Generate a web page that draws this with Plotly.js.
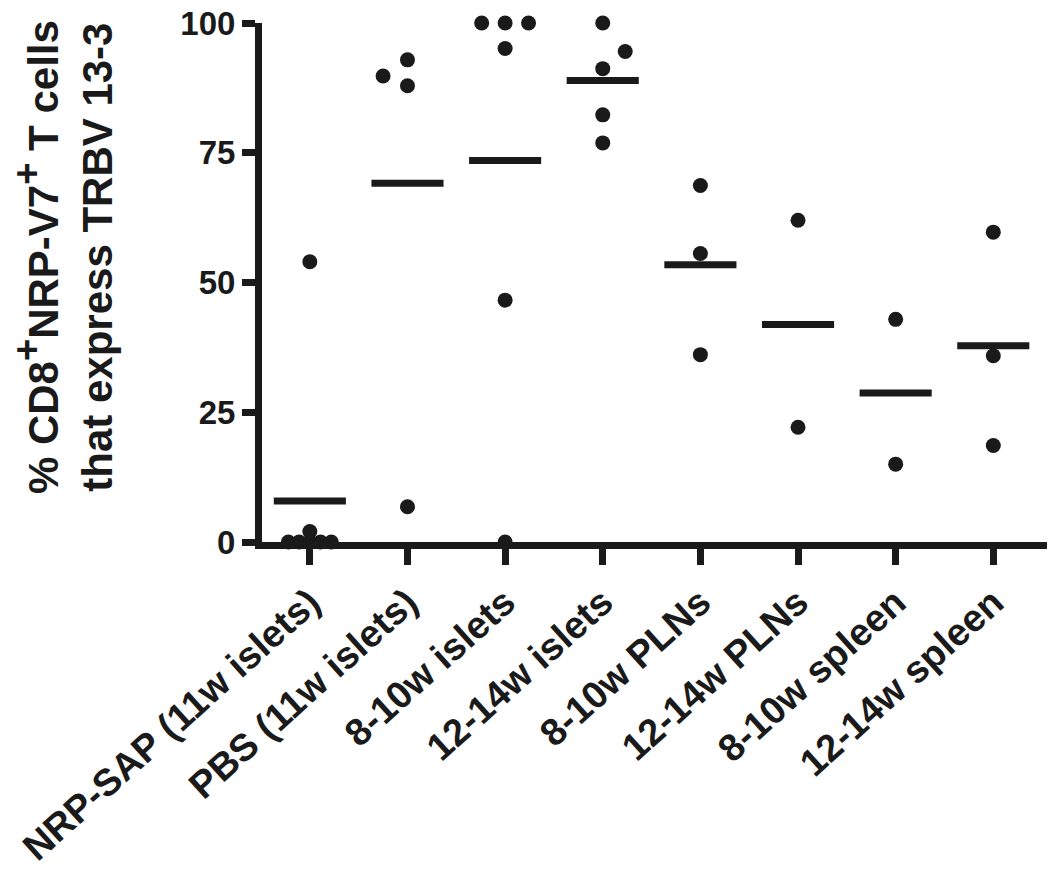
<!DOCTYPE html>
<html>
<head>
<meta charset="utf-8">
<script src="https://cdn.plot.ly/plotly-3.0.1.min.js"></script>
<style>
  html, body { margin: 0; padding: 0; background: #ffffff; }
  #chart { width: 1050px; height: 887px; }
</style>
</head>
<body>
<div id="chart"></div>
<script>
// ---- data ----
const categories = [
  'NRP-SAP (11w islets)', 'PBS (11w islets)', '8-10w islets', '12-14w islets',
  '8-10w PLNs', '12-14w PLNs', '8-10w spleen', '12-14w spleen'
];
const nrpSap      = [54, 2, 0, 0, 0, 0, 0];
const pbs         = [89.8, 92.9, 87.9, 6.8];
const islets8_10  = [100, 100, 100, 95.1, 46.6, 0];
const islets12_14 = [100, 94.5, 91.2, 82.3, 76.9];
const plns8_10    = [68.7, 55.6, 36.1];
const plns12_14   = [62.0, 22.1];
const spleen8_10  = [42.9, 15.0];
const spleen12_14 = [59.7, 35.9, 18.6];
const groupMeans  = [7.9, 69.1, 73.5, 88.9, 53.4, 41.9, 28.7, 37.8];
const yTickVals   = [0, 25, 50, 75, 100];

// horizontal spread of overlapping dots (scatter-dot-plot layout), in category units
const dotSpread = [
  [0, 0, -0.22, -0.11, 0, 0.11, 0.22],
  [-0.25, 0, 0, 0],
  [-0.24, 0, 0.24, 0, 0, 0],
  [0, 0.23, 0, 0, 0],
  [0, 0, 0],
  [0, 0],
  [0, 0],
  [0, 0, 0]
];

const groups = [nrpSap, pbs, islets8_10, islets12_14, plns8_10, plns12_14, spleen8_10, spleen12_14];
const ink = '#1a1a1a';
const fontFam = 'Arial, "Liberation Sans", Helvetica, sans-serif';

const dotX = [], dotY = [];
groups.forEach((vals, gi) => {
  vals.forEach((v, i) => {
    dotX.push(gi + dotSpread[gi][i]);
    dotY.push(v);
  });
});

const dots = {
  type: 'scatter', mode: 'markers', x: dotX, y: dotY,
  marker: { symbol: 'circle', size: 15, color: ink, line: { width: 0 } },
  cliponaxis: false, hoverinfo: 'y', showlegend: false
};
const means = {
  type: 'scatter', mode: 'markers',
  x: categories.map((c, i) => i), y: groupMeans,
  marker: { symbol: 'line-ew', size: 51.5, color: ink, line: { width: 7, color: ink } },
  cliponaxis: false, hoverinfo: 'y', showlegend: false
};

const sup = '<sup><span style="font-size:38px">+</span></sup>';

const layout = {
  width: 1050, height: 887,
  margin: { l: 262, r: 3, t: 23, b: 345 },
  paper_bgcolor: '#ffffff', plot_bgcolor: '#ffffff',
  showlegend: false,
  xaxis: {
    range: [-0.49, 7.55],
    tickmode: 'array', tickvals: categories.map((c, i) => i), ticktext: categories,
    tickangle: -42,
    showline: true, linecolor: ink, linewidth: 7,
    ticks: 'outside', ticklen: 16, tickwidth: 7, tickcolor: ink,
    showgrid: false, zeroline: false,
    tickfont: { family: fontFam, size: 38, color: ink, weight: 'bold' }
  },
  yaxis: {
    range: [0, 100],
    tickmode: 'array', tickvals: yTickVals, ticktext: yTickVals.map(String),
    showline: true, linecolor: ink, linewidth: 7,
    ticks: 'outside', ticklen: 13, tickwidth: 7, tickcolor: ink,
    showgrid: false, zeroline: false,
    tickfont: { family: fontFam, size: 33, color: ink, weight: 'bold' }
  },
  annotations: [{
    xref: 'paper', yref: 'paper', x: 0, y: 0.549, xshift: -199,
    xanchor: 'center', yanchor: 'middle', textangle: -90, showarrow: false,
    align: 'center',
    text: '% CD8' + sup + 'NRP-V7' + sup + ' T cells<br>that express TRBV 13-3',
    font: { family: fontFam, size: 42, color: ink, weight: 'bold' }
  }]
};

Plotly.newPlot('chart', [means, dots], layout, { staticPlot: true, displayModeBar: false });
</script>
</body>
</html>
